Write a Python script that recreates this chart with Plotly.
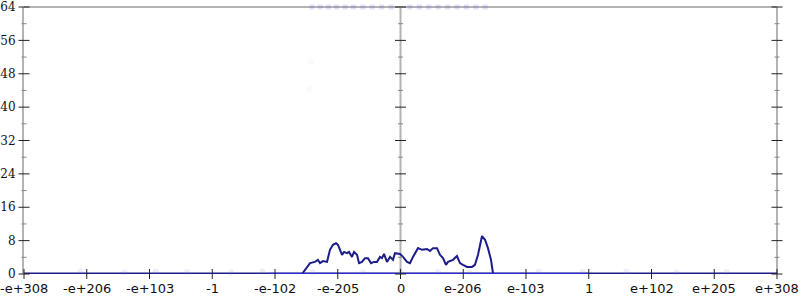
import plotly.graph_objects as go

# tick labels (equally spaced positions 0..12)
tick_labels = ["-e+308", "-e+206", "-e+103", "-1", "-e-102", "-e-205", "0",
               "e-206", "e-103", "1", "e+102", "e+205", "e+308"]
y_ticks = [0, 8, 16, 24, 32, 40, 48, 56, 64]

# main density curve (x in tick-position units, y in counts)
curve_x = [0.0, 4.430, 4.558, 4.637, 4.685, 4.717, 4.765, 4.829, 4.876, 4.924,
           4.972, 5.004, 5.036, 5.068, 5.100, 5.147, 5.179, 5.227, 5.259, 5.307,
           5.339, 5.386, 5.434, 5.482, 5.530, 5.578, 5.625, 5.673, 5.705, 5.737,
           5.785, 5.833, 5.880, 5.912, 5.992, 6.040, 6.104, 6.151, 6.199, 6.279,
           6.343, 6.422, 6.470, 6.518, 6.582, 6.629, 6.677, 6.725, 6.757, 6.837,
           6.900, 6.948, 6.996, 7.060, 7.139, 7.187, 7.235, 7.267, 7.299, 7.347,
           7.394, 7.442, 7.474, 7.49, 12.0]
curve_y = [0.0, 0.0, 2.6, 2.9, 3.4, 2.6, 3.1, 2.9, 5.8, 7.0,
           7.4, 7.0, 5.8, 4.6, 5.3, 5.0, 5.3, 4.1, 5.3, 4.6,
           2.6, 2.9, 3.8, 3.8, 2.6, 2.9, 2.9, 4.1, 3.8, 4.8,
           2.9, 4.1, 3.4, 5.0, 4.8, 4.1, 2.9, 2.6, 4.1, 6.2,
           5.8, 6.0, 5.5, 6.2, 6.2, 4.6, 3.8, 2.2, 2.9, 3.4,
           4.3, 2.6, 2.2, 1.7, 1.7, 2.2, 4.6, 7.0, 9.1, 8.2,
           6.2, 3.4, 0.2, 0.0, 0.0]

# faint sample points along the base and top
base_x = [0.0, 12.0]
base_y = [0.0, 0.0]
faint_x = [0.9, 1.6, 2.1, 2.6, 3.3, 3.8, 4.6, 5.4, 6.0, 6.6, 7.1, 8.2, 8.9, 9.6, 10.4, 11.2]
faint_y = [0.6, 0.4, 0.6, 0.5, 0.4, 0.6, 0.5, 0.4, 0.6, 0.5, 0.4, 0.6, 0.5, 0.6, 0.4, 0.5]
top_x = [4.59, 4.72, 4.85, 4.98, 5.12, 5.25, 5.40, 5.55, 5.70, 5.85, 6.15,
         6.30, 6.45, 6.60, 6.75, 6.90, 7.05, 7.20, 7.35]
top_y = [64] * len(top_x)
stray_x = [4.57, 4.55]
stray_y = [50.8, 44.3]

AX = "#b3b3b3"
NAVY = "#1c1c8a"

fig = go.Figure()
fig.add_trace(go.Scatter(x=top_x, y=top_y, mode="markers",
                         marker=dict(color="rgba(90,90,230,0.18)", size=5, symbol="square"),
                         hoverinfo="skip", cliponaxis=False))
fig.add_trace(go.Scatter(x=stray_x, y=stray_y, mode="markers",
                         marker=dict(color="rgba(150,150,230,0.06)", size=6),
                         hoverinfo="skip"))
fig.add_trace(go.Scatter(x=base_x, y=base_y, mode="lines",
                         line=dict(color=NAVY, width=3), hoverinfo="skip", cliponaxis=False))
fig.add_trace(go.Scatter(x=curve_x, y=curve_y, mode="lines",
                         line=dict(color=NAVY, width=2), hoverinfo="skip", cliponaxis=False))
fig.add_trace(go.Scatter(x=[3.9, 9.0], y=[0, 0], mode="lines",
                         line=dict(color="rgba(50,50,230,0.75)", width=2.5),
                         hoverinfo="skip", cliponaxis=False))
fig.add_trace(go.Scatter(x=faint_x, y=faint_y, mode="markers",
                         marker=dict(color="rgba(120,120,230,0.12)", size=6),
                         hoverinfo="skip", cliponaxis=False))

shapes = []
# top border
shapes.append(dict(type="line", xref="paper", yref="paper", x0=0, x1=1, y0=1, y1=1,
                   line=dict(color=AX, width=2), layer="below"))
# center and right vertical axes
for px in (0.5, 1.0):
    shapes.append(dict(type="line", xref="paper", yref="paper", x0=px, x1=px, y0=0, y1=1,
                       line=dict(color=AX, width=2), layer="below"))
# y ticks on the three vertical axes
for px in (0.0, 0.5, 1.0):
    for v in range(0, 65, 4):
        major = v % 8 == 0
        half = 5.5 if major else 2.5
        shapes.append(dict(type="line", xref="paper", yref="paper",
                           xsizemode="pixel", xanchor=px, x0=-half, x1=half,
                           y0=v / 64, y1=v / 64,
                           line=dict(color="#222" if major else "#888", width=1)))
# x ticks
for i in range(len(tick_labels)):
    shapes.append(dict(type="line", xref="paper", yref="paper",
                       ysizemode="pixel", yanchor=0, y0=-5, y1=5,
                       x0=i / 12, x1=i / 12,
                       line=dict(color="#222", width=1)))

# x tick labels as annotations (so edge labels are not dropped)
annotations = [dict(x=i, y=0, xref="x", yref="paper", text=lab, showarrow=False,
                    xanchor="center", yanchor="top", yshift=-5,
                    font=dict(family="DejaVu Sans", size=13, color="#111"))
               for i, lab in enumerate(tick_labels)]

fig.update_layout(
    width=800, height=300,
    margin=dict(l=24, r=23, t=7, b=26, autoexpand=False),
    plot_bgcolor="white", paper_bgcolor="white",
    showlegend=False,
    shapes=shapes,
    annotations=annotations,
    xaxis=dict(range=[0, 12], showticklabels=False,
               showgrid=False, zeroline=False, showline=False, automargin=False),
    yaxis=dict(range=[0, 64], tickvals=y_ticks, ticktext=[str(v) for v in y_ticks],
               showgrid=False, zeroline=False, showline=True, linecolor=AX, linewidth=2,
               automargin=False,
               ticks="outside", ticklen=4, tickcolor="rgba(0,0,0,0)",
               tickfont=dict(family="DejaVu Serif", size=12, color="#111")),
)

fig.write_html("out.html")
